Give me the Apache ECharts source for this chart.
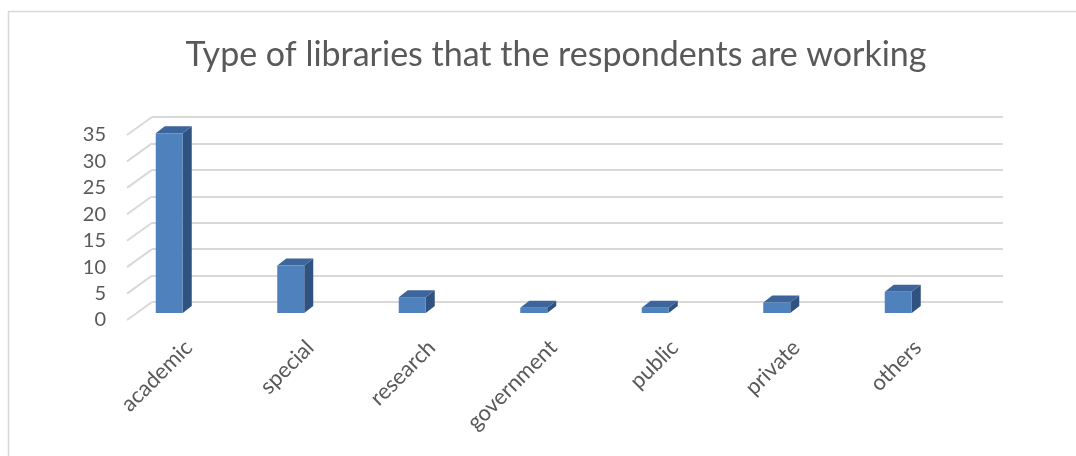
<!DOCTYPE html>
<html>
<head>
<meta charset="utf-8">
<script src="https://cdn.jsdelivr.net/npm/echarts@6/dist/echarts.min.js"></script>
<style>
html,body{margin:0;padding:0;background:#fff;}
#chart{width:1076px;height:456px;}
</style>
</head>
<body>
<div id="chart"></div>
<script>
const titleText = 'Type of libraries that the respondents are working';
const categories = ['academic', 'special', 'research', 'government', 'public', 'private', 'others'];
const counts = [34, 9, 3, 1, 1, 2, 4];
const yTicks = [0, 5, 10, 15, 20, 25, 30, 35];

const FONT = 'Lato, "Noto Sans", sans-serif';
const TEXT = '#595959';
const GRIDC = '#d9d9d9';
const FRONT = '#4f81bd', SIDE = '#2f5281', TOP = '#3c659c';
// 3D geometry (pixels)
const WALL_DX = 25, WALL_DY = -18;
const BAR_DX = 9, BAR_DY = -7, BAR_LIFT = -7, BAR_SHIFT = -19.5, BAR_HW = 13.5;

const chart = echarts.init(document.getElementById('chart'), null, {renderer: 'canvas'});

const yBase = {type: 'value', min: 0, max: 35, interval: 5};

chart.setOption({
  animation: false,
  backgroundColor: '#fff',
  title: {
    text: titleText, left: 551, top: 33, textAlign: 'center',
    textStyle: {fontFamily: FONT, fontSize: 34, fontWeight: 'normal', color: TEXT}
  },
  graphic: [{
    type: 'rect', silent: true, z: -10,
    shape: {x: 8.5, y: 11.5, width: 1200, height: 600},
    style: {fill: 'none', stroke: GRIDC, lineWidth: 1.5}
  }],
  grid: [
    {left: 127, top: 135, width: 851, height: 185},   // front plane (labels)
    {left: 152, top: 117, width: 851, height: 185},   // back wall
    {left: 128, top: 135, width: 850.5, height: 185}  // categories / bars
  ],
  xAxis: [
    {gridIndex: 0, type: 'value', min: 0, max: 1, show: false},
    {gridIndex: 1, type: 'value', min: 0, max: 1, show: false},
    {gridIndex: 2, type: 'category', data: categories,
     axisLine: {show: false}, axisTick: {show: false},
     axisLabel: {rotate: 45, margin: 24, interval: 0, fontFamily: FONT, fontSize: 22, color: TEXT}}
  ],
  yAxis: [
    Object.assign({gridIndex: 0, axisLine: {show: false}, axisTick: {show: false}, splitLine: {show: false},
      axisLabel: {margin: 21, fontFamily: FONT, fontSize: 20, color: TEXT}}, yBase),
    Object.assign({gridIndex: 1, axisLine: {show: false}, axisTick: {show: false}, axisLabel: {show: false},
      splitLine: {show: true, lineStyle: {color: GRIDC, width: 2}}}, yBase),
    Object.assign({gridIndex: 2, show: false, splitLine: {show: false}}, yBase)
  ],
  series: [
    {
      type: 'custom', xAxisIndex: 0, yAxisIndex: 0, silent: true, z: 1,
      data: yTicks.map(v => [0, v]),
      renderItem: function (params, api) {
        const p = api.coord([0, api.value(1)]);
        return {type: 'line', shape: {x1: p[0], y1: p[1], x2: p[0] + WALL_DX, y2: p[1] + WALL_DY},
          style: {stroke: GRIDC, lineWidth: 2}};
      }
    },
    {
      type: 'custom', xAxisIndex: 2, yAxisIndex: 2, silent: true, z: 5,
      data: counts.map((v, i) => [i, v]),
      renderItem: function (params, api) {
        const c = api.value(0), v = api.value(1);
        const p0 = api.coord([c, 0]);
        const p1 = api.coord([c, v]);
        const cx = p0[0] + BAR_SHIFT;
        const xl = cx - BAR_HW, xr = cx + BAR_HW;
        const yb = p0[1] + BAR_LIFT, yt = p1[1] + BAR_LIFT;
        return {
          type: 'group',
          children: [
            {type: 'polygon', shape: {points: [[xr, yb], [xr + BAR_DX, yb + BAR_DY], [xr + BAR_DX, yt + BAR_DY], [xr, yt]]},
              style: {fill: SIDE}},
            {type: 'polygon', shape: {points: [[xl, yt], [xl + BAR_DX, yt + BAR_DY], [xr + BAR_DX, yt + BAR_DY], [xr, yt]]},
              style: {fill: TOP}},
            {type: 'rect', shape: {x: xl, y: yt, width: xr - xl, height: yb - yt},
              style: {fill: FRONT}}
          ]
        };
      }
    }
  ]
});
</script>
</body>
</html>
